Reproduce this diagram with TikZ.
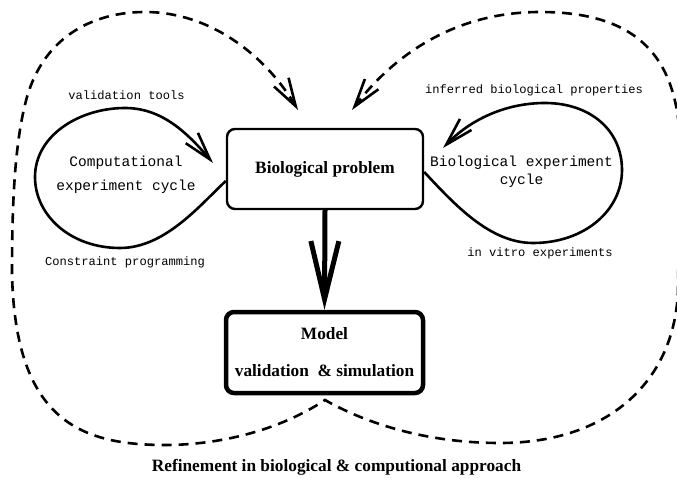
\documentclass[tikz,border=0pt]{standalone}
\usepackage{fontspec}
\setmainfont{Liberation Serif}
\setmonofont{Liberation Mono}
\usetikzlibrary{arrows.meta}
\begin{document}
\begin{tikzpicture}[x=1pt,y=-1pt,
  boxnode/.style={draw, rounded corners=8pt, line width=2.4pt, inner sep=0pt, align=center,
    font=\fontsize{17.3}{20}\selectfont\bfseries},
  cyclearrow/.style={line width=2.6pt, line join=round, -{Straight Barb[length=28pt,width=16pt]}},
  outerloop/.style={line width=2.6pt, dash pattern=on 10pt off 7pt,
    {Straight Barb[length=28pt,width=17pt]}-{Straight Barb[length=28pt,width=17pt]}},
  smalltt/.style={font=\fontsize{12.1}{14}\selectfont\ttfamily, inner sep=0pt},
  bigtt/.style={font=\fontsize{14.5}{17.5}\selectfont\ttfamily, inner sep=0pt, align=center},
  caption/.style={font=\fontsize{17.3}{20}\selectfont\bfseries, inner sep=0pt}
]
\useasboundingbox (0,0) rectangle (677,478);

% boxes
\node[boxnode, minimum width=196pt, minimum height=80pt] (bp) at (325,169) {Biological problem};
\node[boxnode, line width=4.5pt, minimum width=197pt, minimum height=81pt] (model) at (324.5,352.5)
  {Model\\[17pt]validation\ \ \& simulation};

% main thick arrow
\draw[line width=5pt, -{Straight Barb[length=58pt,width=28pt]}] (bp.south) -- (model.north);

% free ends
\coordinate (ltip) at (213,163);
\coordinate (rtip) at (443,148);
\coordinate (dl) at (298,110);
\coordinate (dr) at (352,110);
\coordinate (peak) at (325,400);

% left cycle
\draw[cyclearrow] ([yshift=-12pt]bp.west) .. controls (200,205) and (165,248) .. (120,248)
  .. controls (70,248) and (35,215) .. (35,177)
  .. controls (35,135) and (80,108) .. (125,108)
  .. controls (160,108) and (185,130) .. (ltip);

% right cycle
\draw[cyclearrow] ([yshift=-3pt]bp.east) .. controls (455,205) and (490,243) .. (533,243)
  .. controls (585,243) and (622,210) .. (622,170)
  .. controls (622,130) and (590,103) .. (545,103)
  .. controls (505,103) and (470,120) .. (rtip);

% outer dashed refinement loop
\draw[outerloop] (dl) .. controls (265,55) and (210,12) .. (145,12)
  .. controls (95,12) and (45,35) .. (27,97)
  .. controls (15,140) and (12,200) .. (12,273)
  .. controls (15,420) and (80,445) .. (165,445)
  .. controls (220,445) and (280,430) .. (peak)
  .. controls (360,420) and (420,443) .. (500,443)
  .. controls (610,443) and (675,380) .. (678,290)
  -- (680,150)
  .. controls (680,50) and (630,12) .. (540,12)
  .. controls (450,12) and (390,60) .. (dr);

% labels
\node[smalltt] (vt) at (126.5,95) {validation tools};
\node[bigtt, font=\fontsize{14.5}{24}\selectfont\ttfamily] (cec) at (126,175) {Computational\\experiment cycle};
\node[smalltt] (cp) at (125,262) {Constraint programming};
\node[smalltt] (ibp) at (534,90) {inferred biological properties};
\node[bigtt] (bec) at (521.5,172) {Biological experiment\\cycle};
\node[smalltt] (ive) at (540,253) {in vitro experiments};
\node[caption] (ref) at (336.5,467) {Refinement in biological \& computional approach};
\end{tikzpicture}
\end{document}
